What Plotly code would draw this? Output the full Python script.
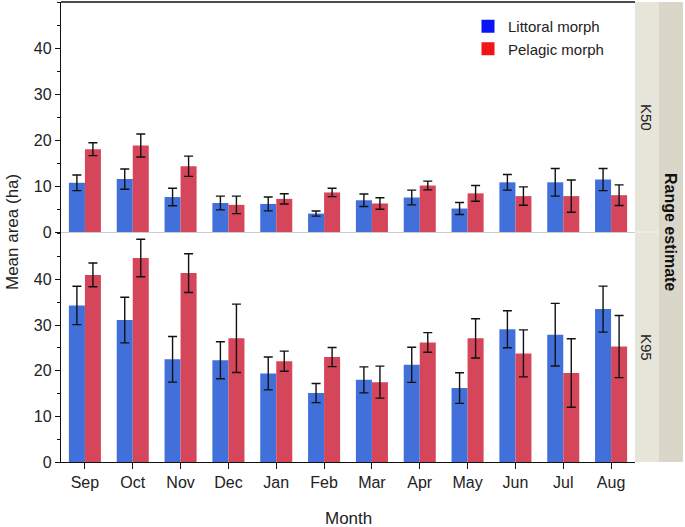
import plotly.graph_objects as go
from plotly.subplots import make_subplots

months = ["Sep", "Oct", "Nov", "Dec", "Jan", "Feb", "Mar", "Apr", "May", "Jun", "Jul", "Aug"]

k50_littoral = [10.7, 11.5, 7.6, 6.3, 6.1, 4.0, 6.9, 7.5, 5.1, 10.8, 10.8, 11.4]
k50_littoral_err = [1.7, 2.2, 1.9, 1.5, 1.5, 0.55, 1.35, 1.6, 1.3, 1.7, 3.0, 2.4]
k50_pelagic = [18.0, 18.8, 14.3, 5.9, 7.2, 8.6, 6.2, 10.1, 8.4, 7.8, 7.8, 8.0]
k50_pelagic_err = [1.4, 2.5, 2.2, 1.9, 1.1, 0.9, 1.25, 0.95, 1.7, 2.0, 3.5, 2.25]

k95_littoral = [34.3, 31.1, 22.5, 22.3, 19.4, 15.1, 18.0, 21.3, 16.2, 29.1, 27.9, 33.5]
k95_littoral_err = [4.2, 5.0, 5.0, 4.05, 3.6, 2.1, 2.85, 3.85, 3.35, 4.05, 6.85, 5.05]
k95_pelagic = [41.0, 44.7, 41.4, 27.1, 22.1, 23.0, 17.5, 26.2, 27.1, 23.8, 19.5, 25.3]
k95_pelagic_err = [2.6, 4.1, 4.25, 7.5, 2.2, 2.1, 3.5, 2.15, 4.3, 5.15, 7.5, 6.8]

series_names = ["Littoral morph", "Pelagic morph"]
panel_labels = ["K50", "K95"]
y_ticks = [0, 10, 20, 30, 40]

BAR_COLORS = ["#4170DB", "#D6465B"]
LEGEND_COLORS = ["#0A14F5", "#F01419"]
FONT = "Liberation Sans, Arial, Helvetica, sans-serif"

fig = make_subplots(rows=2, cols=1, shared_xaxes=True, vertical_spacing=0.0)

panels = [
    (k50_littoral, k50_littoral_err, k50_pelagic, k50_pelagic_err),
    (k95_littoral, k95_littoral_err, k95_pelagic, k95_pelagic_err),
]

for r, (lv, le, pv, pe) in enumerate(panels, start=1):
    for i, (vals, errs) in enumerate([(lv, le), (pv, pe)]):
        fig.add_trace(
            go.Bar(
                x=months, y=vals, name=series_names[i], offsetgroup=str(i),
                marker=dict(color=BAR_COLORS[i], line=dict(width=0)),
                error_y=dict(type="data", array=errs, color="#111111", thickness=1.4, width=4.5),
                showlegend=False, hoverinfo="skip",
            ),
            row=r, col=1,
        )

# legend-only entries
for i in range(2):
    fig.add_trace(
        go.Scatter(
            x=[None], y=[None], mode="markers", name=series_names[i],
            marker=dict(symbol="square", size=13, color=LEGEND_COLORS[i]),
            showlegend=True,
        ),
        row=1, col=1,
    )

axis_font = dict(family=FONT, size=16, color="#222222")

fig.update_xaxes(
    categoryorder="array", categoryarray=months,
    showgrid=False, zeroline=False,
    tickfont=axis_font,
)
fig.update_xaxes(showline=False, ticks="", row=1, col=1)
fig.update_xaxes(showline=True, linecolor="#111111", linewidth=1.4,
                 ticks="outside", ticklen=6, tickcolor="#111111", tickwidth=1.4,
                 row=2, col=1)

fig.update_yaxes(
    tickvals=y_ticks, showgrid=False,
    showline=True, linecolor="#111111", linewidth=1.4,
    ticks="outside", ticklen=5, tickcolor="#111111", tickwidth=1.2,
    minor=dict(ticks="outside", dtick=5, tick0=0, ticklen=3, tickcolor="#111111", tickwidth=1),
    tickfont=axis_font,
)
fig.update_yaxes(range=[0, 50], zeroline=True, zerolinecolor="#CCCCCC", zerolinewidth=1.2,
                 domain=[0.5, 1.0], row=1, col=1)
fig.update_yaxes(range=[0, 50.4], zeroline=False, domain=[0.0, 0.5], row=2, col=1)

W_PLOT = 574.0
strip_w = 24.0 / W_PLOT
shapes = []
# top border of upper panel
shapes.append(dict(type="line", xref="paper", yref="paper", x0=0, x1=1, y0=1, y1=1,
                   line=dict(color="#111111", width=1.4)))
# inner strips
for (y0, y1) in [(0.5, 1.0), (0.0, 0.5)]:
    shapes.append(dict(type="rect", xref="paper", yref="paper",
                       x0=1.0, x1=1.0 + strip_w, y0=y0, y1=y1,
                       fillcolor="#E5E5DA", line=dict(width=0), layer="below"))
shapes.append(dict(type="line", xref="paper", yref="paper", x0=1.0, x1=1.0 + strip_w,
                   y0=0.5, y1=0.5, line=dict(color="#F2F2EC", width=1.2)))
# outer strip
shapes.append(dict(type="rect", xref="paper", yref="paper",
                   x0=1.0 + strip_w, x1=1.0 + 2 * strip_w, y0=0.0, y1=1.0,
                   fillcolor="#DAD7C9", line=dict(width=0), layer="below"))

annotations = []
for lbl, yc in zip(panel_labels, [0.75, 0.25]):
    annotations.append(dict(text=lbl, xref="paper", yref="paper", x=1.0 + strip_w / 2, y=yc,
                            textangle=90, showarrow=False, xanchor="center", yanchor="middle",
                            font=dict(family=FONT, size=15, color="#222222")))
annotations.append(dict(text="<b>Range estimate</b>", xref="paper", yref="paper",
                        x=1.0 + 1.5 * strip_w, y=0.5, textangle=90, showarrow=False,
                        xanchor="center", yanchor="middle",
                        font=dict(family=FONT, size=16, color="#111111")))
annotations.append(dict(text="Mean area (ha)", xref="paper", yref="paper",
                        x=(12 - 61) / W_PLOT, y=0.5, textangle=-90, showarrow=False,
                        xanchor="center", yanchor="middle",
                        font=dict(family=FONT, size=17, color="#222222")))
annotations.append(dict(text="Month", xref="paper", yref="paper",
                        x=0.5, y=(462 - 518) / 460.0, showarrow=False,
                        xanchor="center", yanchor="middle",
                        font=dict(family=FONT, size=17, color="#222222")))

fig.update_layout(
    width=685, height=527,
    margin=dict(l=61, r=50, t=2, b=65),
    paper_bgcolor="white", plot_bgcolor="white",
    barmode="group", bargap=0.33, bargroupgap=0.0,
    shapes=shapes, annotations=annotations,
    legend=dict(x=(468 - 61) / W_PLOT, y=(462 - 10) / 460.0, xanchor="left", yanchor="top",
                bgcolor="rgba(0,0,0,0)", font=dict(family=FONT, size=15, color="#222222"),
                tracegroupgap=0, itemclick=False),
    font=dict(family=FONT),
)

fig.write_html("out.html", config={"displayModeBar": False},
               post_script="document.body.style.margin='0px';document.body.style.overflow='hidden';")
